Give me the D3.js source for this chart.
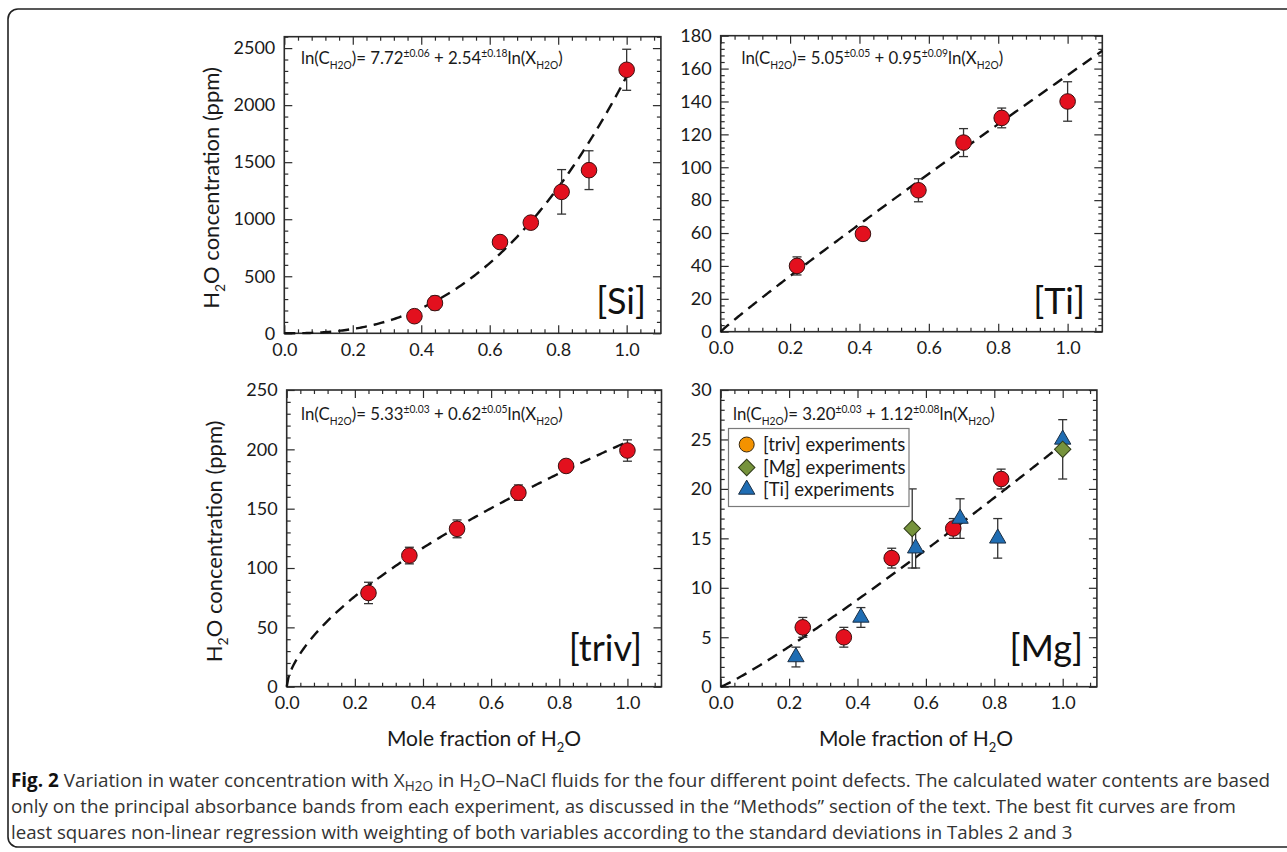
<!DOCTYPE html>
<html><head><meta charset="utf-8">
<script src="https://cdn.jsdelivr.net/npm/d3@7"></script>
<style>body{margin:0;background:#fff}svg{display:block}</style>
</head><body>
<svg id="c" width="1287" height="852"></svg>
<script>
// ---------------- data ----------------
const xTickLabels = [0.0, 0.2, 0.4, 0.6, 0.8, 1.0];

const siX   = [0.38, 0.44, 0.63, 0.72, 0.81, 0.89, 1.0];
const siY   = [150, 265, 800, 970, 1240, 1430, 2310];
const siErr = [25, 60, 45, 35, 195, 170, 180];
const siYTicks = [0, 500, 1000, 1500, 2000, 2500];

const tiX   = [0.22, 0.41, 0.57, 0.70, 0.81, 1.0];
const tiY   = [40, 59.5, 86, 115, 130, 140];
const tiErr = [5.5, 4, 7, 8.5, 6, 12];
const tiYTicks = [0, 20, 40, 60, 80, 100, 120, 140, 160, 180];

const trivX   = [0.24, 0.36, 0.50, 0.68, 0.82, 1.0];
const trivY   = [79, 110.5, 133, 163.5, 186, 199];
const trivErr = [9, 7, 7.5, 6.5, 5, 9];
const trivYTicks = [0, 50, 100, 150, 200, 250];

const mgCircX   = [0.24, 0.36, 0.50, 0.68, 0.82];
const mgCircY   = [6, 5, 13, 16, 21];
const mgCircErr = [1, 1, 1, 1, 1];
const mgDiaX    = [0.56, 1.0];
const mgDiaY    = [16, 24];
const mgDiaErr  = [4, 3];
const mgTriX    = [0.22, 0.41, 0.57, 0.70, 0.81, 1.0];
const mgTriY    = [3, 7, 14, 17, 15, 25];
const mgTriErr  = [1, 1, 2, 2, 2, 0];
const mgYTicks = [0, 5, 10, 15, 20, 25, 30];

const panelNames = ["[Si]", "[Ti]", "[triv]", "[Mg]"];
const fitA  = [7.72, 5.05, 5.33, 3.20];
const fitAe = ["±0.06", "±0.05", "±0.03", "±0.03"];
const fitB  = [2.54, 0.95, 0.62, 1.12];
const fitBe = ["±0.18", "±0.09", "±0.05", "±0.08"];
const fitXEnd = [1.0, 1.1, 0.99, 1.0];

const legendLabels = ["[triv] experiments", "[Mg] experiments", "[Ti] experiments"];

// ---------------- drawing ----------------
const svg = d3.select("#c");
const FONT = "Lato, 'Open Sans', sans-serif";
const INK = "#2b2b2b";

// outer frame
svg.append("rect").attr("x", 8).attr("y", 9).attr("width", 1290).attr("height", 838)
  .attr("rx", 10).attr("fill", "none").attr("stroke", "#222").attr("stroke-width", 1.6);

const panels = [
  {x0: 284.3, x1: 660.9, y0: 333.3, y1: 36.7, ymax: 2600, yTicks: siYTicks, yMinor: 100,
   ex: 301, ey: 63.5, lx: 646, ly: 314, title: true},
  {x0: 720.7, x1: 1102.3, y0: 331.7, y1: 35.7, ymax: 180, yTicks: tiYTicks, yMinor: 4,
   ex: 741.5, ey: 63.5, lx: 1085, ly: 314, title: false},
  {x0: 286.7, x1: 661.5, y0: 686.7, y1: 390, ymax: 250, yTicks: trivYTicks, yMinor: 10,
   ex: 301, ey: 419.5, lx: 642, ly: 661, title: true},
  {x0: 720.7, x1: 1096.9, y0: 686.7, y1: 390, ymax: 30, yTicks: mgYTicks, yMinor: 1,
   ex: 733, ey: 419.5, lx: 1083, ly: 661, title: false}
];

function styleAxis(g) {
  g.select(".domain").remove();
  g.selectAll(".tick line").attr("stroke", INK).attr("stroke-width", 1.2);
  g.selectAll(".tick text").attr("fill", "#1a1a1a").style("font-family", FONT).style("font-size", "18px");
}

function drawPanel(i) {
  const p = panels[i];
  const g = svg.append("g");
  const x = d3.scaleLinear().domain([0, 1.1]).range([p.x0, p.x1]);
  const y = d3.scaleLinear().domain([0, p.ymax]).range([p.y0, p.y1]);
  p.x = x; p.y = y;
  const xMinor = d3.range(0, 1.1 + 1e-9, 0.04).filter(v => Math.abs(Math.round(v / 0.2) * 0.2 - v) > 1e-6);
  const yMinor = d3.range(0, p.ymax + 1e-9, p.yMinor).filter(v => !p.yTicks.includes(+v.toFixed(6)));

  // minor ticks
  g.append("g").attr("transform", `translate(0,${p.y0})`).call(d3.axisBottom(x).tickValues(xMinor).tickSize(-4).tickFormat("")).call(styleAxis);
  g.append("g").attr("transform", `translate(0,${p.y1})`).call(d3.axisTop(x).tickValues(xMinor).tickSize(-4).tickFormat("")).call(styleAxis);
  g.append("g").attr("transform", `translate(${p.x0},0)`).call(d3.axisLeft(y).tickValues(yMinor).tickSize(-4).tickFormat("")).call(styleAxis);
  g.append("g").attr("transform", `translate(${p.x1},0)`).call(d3.axisRight(y).tickValues(yMinor).tickSize(-4).tickFormat("")).call(styleAxis);
  // major ticks
  g.append("g").attr("transform", `translate(0,${p.y0})`).call(d3.axisBottom(x).tickValues(xTickLabels).tickSize(-8).tickPadding(10).tickFormat(d3.format(".1f"))).call(styleAxis);
  g.append("g").attr("transform", `translate(0,${p.y1})`).call(d3.axisTop(x).tickValues(xTickLabels).tickSize(-8).tickFormat("")).call(styleAxis);
  g.append("g").attr("transform", `translate(${p.x0},0)`).call(d3.axisLeft(y).tickValues(p.yTicks).tickSize(-8).tickPadding(9).tickFormat(d3.format("d"))).call(styleAxis);
  g.append("g").attr("transform", `translate(${p.x1},0)`).call(d3.axisRight(y).tickValues(p.yTicks).tickSize(-8).tickFormat("")).call(styleAxis);

  g.append("rect").attr("x", p.x0).attr("y", p.y1).attr("width", p.x1 - p.x0).attr("height", p.y0 - p.y1)
    .attr("fill", "none").attr("stroke", INK).attr("stroke-width", 1.6);

  // fit curve
  const xs = d3.range(0, fitXEnd[i] + 1e-9, 0.005);
  const line = d3.line().x(d => x(d)).y(d => y(Math.exp(fitA[i]) * Math.pow(d, fitB[i])));
  g.append("path").attr("d", line(xs)).attr("fill", "none").attr("stroke", "#111")
    .attr("stroke-width", 2.4).attr("stroke-dasharray", "11,7");

  // equation (narrowed horizontally to the reference's width)
  const eg = g.append("g");
  const t = eg.append("text").attr("x", 0).attr("y", 0).attr("fill", "#1a1a1a")
    .style("font-family", FONT).style("font-size", "18px");
  t.append("tspan").text("ln(C");
  t.append("tspan").attr("dy", 5).style("font-size", "11px").text("H2O");
  t.append("tspan").attr("dy", -5).text(")= " + fitA[i].toFixed(2));
  t.append("tspan").attr("dy", -7).style("font-size", "11px").text(fitAe[i]);
  t.append("tspan").attr("dy", 7).text(" + " + fitB[i].toFixed(2));
  t.append("tspan").attr("dy", -7).style("font-size", "11px").text(fitBe[i]);
  t.append("tspan").attr("dy", 7).text("ln(X");
  t.append("tspan").attr("dy", 5).style("font-size", "11px").text("H2O");
  t.append("tspan").attr("dy", -5).text(")");
  const ew = t.node().getBBox().width;
  eg.attr("transform", `translate(${p.ex},${p.ey}) scale(${262 / ew},1)`);

  // panel label
  g.append("text").attr("x", p.lx).attr("y", p.ly).attr("text-anchor", "end")
    .style("font-family", FONT).style("font-size", "36px").attr("fill", "#111").text(panelNames[i]);

  // y title
  if (p.title) {
    const cy = (p.y0 + p.y1) / 2 + 3;
    const tt = g.append("text").attr("transform", `translate(${p.x0 - 65},${cy}) rotate(-90)`)
      .attr("text-anchor", "middle").style("font-family", FONT).style("font-size", "22px").attr("fill", "#1a1a1a");
    tt.append("tspan").text("H");
    tt.append("tspan").attr("dy", 6).style("font-size", "14px").text("2");
    tt.append("tspan").attr("dy", -6).text("O concentration (ppm)");
  }
  return g;
}

function errorBars(g, p, X, Y, E) {
  const cap = 4.5;
  X.forEach((xv, k) => {
    if (!E[k]) return;
    const cx = p.x(xv), t = p.y(Y[k] + E[k]), b = p.y(Y[k] - E[k]);
    g.append("line").attr("x1", cx).attr("x2", cx).attr("y1", t).attr("y2", b).attr("stroke", "#333").attr("stroke-width", 1.3);
    [t, b].forEach(yy => g.append("line").attr("x1", cx - cap).attr("x2", cx + cap).attr("y1", yy).attr("y2", yy).attr("stroke", "#333").attr("stroke-width", 1.3));
  });
}
function circles(g, p, X, Y, fill) {
  g.selectAll(null).data(X).enter().append("circle")
    .attr("cx", d => p.x(d)).attr("cy", (d, k) => p.y(Y[k])).attr("r", 7.8)
    .attr("fill", fill).attr("stroke", "#3a1010").attr("stroke-width", 1);
}
const triPath = d3.symbol().type(d3.symbolTriangle).size(115)();
const diaPath = d3.symbol().type(d3.symbolSquare).size(135)();
function triangles(g, p, X, Y) {
  g.selectAll(null).data(X).enter().append("path").attr("d", triPath)
    .attr("transform", (d, k) => `translate(${p.x(d)},${p.y(Y[k])})`)
    .attr("fill", "#1f6db3").attr("stroke", "#1b2f45").attr("stroke-width", 1);
}
function diamonds(g, p, X, Y) {
  g.selectAll(null).data(X).enter().append("path").attr("d", diaPath)
    .attr("transform", (d, k) => `translate(${p.x(d)},${p.y(Y[k])}) rotate(45)`)
    .attr("fill", "#76933c").attr("stroke", "#2e3a17").attr("stroke-width", 1);
}

const RED = "#e3101e";
let g0 = drawPanel(0);
errorBars(g0, panels[0], siX, siY, siErr); circles(g0, panels[0], siX, siY, RED);
let g1 = drawPanel(1);
errorBars(g1, panels[1], tiX, tiY, tiErr); circles(g1, panels[1], tiX, tiY, RED);
let g2 = drawPanel(2);
errorBars(g2, panels[2], trivX, trivY, trivErr); circles(g2, panels[2], trivX, trivY, RED);
let g3 = drawPanel(3);
const p3 = panels[3];
errorBars(g3, p3, mgDiaX, mgDiaY, mgDiaErr);
errorBars(g3, p3, mgTriX, mgTriY, mgTriErr);
errorBars(g3, p3, mgCircX, mgCircY, mgCircErr);
circles(g3, p3, mgCircX, mgCircY, RED);
triangles(g3, p3, mgTriX, mgTriY);
diamonds(g3, p3, mgDiaX, mgDiaY);

// legend
const lg = svg.append("g");
lg.append("rect").attr("x", 728.5).attr("y", 428.5).attr("width", 180.5).attr("height", 78)
  .attr("fill", "#fff").attr("stroke", "#7a7a7a").attr("stroke-width", 1.2);
const legY = [444.5, 467.5, 489.5];
lg.append("circle").attr("cx", 746.7).attr("cy", legY[0]).attr("r", 7.5).attr("fill", "#f39200").attr("stroke", "#3a2a10");
lg.append("path").attr("d", diaPath).attr("transform", `translate(746.7,${legY[1]}) rotate(45)`).attr("fill", "#76933c").attr("stroke", "#2e3a17");
lg.append("path").attr("d", triPath).attr("transform", `translate(746.7,${legY[2]})`).attr("fill", "#1f6db3").attr("stroke", "#1b2f45");
legendLabels.forEach((s, k) => lg.append("text").attr("x", 763).attr("y", legY[k] + 6.5)
  .style("font-family", FONT).style("font-size", "18.5px").attr("fill", "#1a1a1a").text(s));

// x titles
[484, 916].forEach(cx => {
  const t = svg.append("text").attr("x", cx).attr("y", 746).attr("text-anchor", "middle")
    .style("font-family", FONT).style("font-size", "21px").attr("fill", "#1a1a1a");
  t.append("tspan").text("Mole fraction of H");
  t.append("tspan").attr("dy", 6).style("font-size", "13px").text("2");
  t.append("tspan").attr("dy", -6).text("O");
});

// caption
const CFONT = "'Open Sans', 'Noto Sans', sans-serif";
function capLine(y, targetW, build) {
  const t = svg.append("text").attr("x", 11).attr("y", y).style("font-family", CFONT)
    .style("font-size", "17px").attr("fill", "#333");
  build(t);
  const w = t.node().getComputedTextLength();
  t.style("font-size", (17 * targetW / w).toFixed(2) + "px");
}
capLine(787, 1260, t => {
  t.append("tspan").style("font-weight", "bold").attr("fill", "#111").text("Fig. 2");
  t.append("tspan").text(" Variation in water concentration with X");
  t.append("tspan").attr("dy", 4).style("font-size", "0.72em").text("H2O");
  t.append("tspan").attr("dy", -4).text(" in H");
  t.append("tspan").attr("dy", 4).style("font-size", "0.72em").text("2");
  t.append("tspan").attr("dy", -4).text("O–NaCl fluids for the four different point defects. The calculated water contents are based");
});
capLine(813, 1225, t => {
  t.append("tspan").text("only on the principal absorbance bands from each experiment, as discussed in the “Methods” section of the text. The best fit curves are from");
});
capLine(839, 1062, t => {
  t.append("tspan").text("least squares non-linear regression with weighting of both variables according to the standard deviations in Tables 2 and 3");
});
</script>
</body></html>
